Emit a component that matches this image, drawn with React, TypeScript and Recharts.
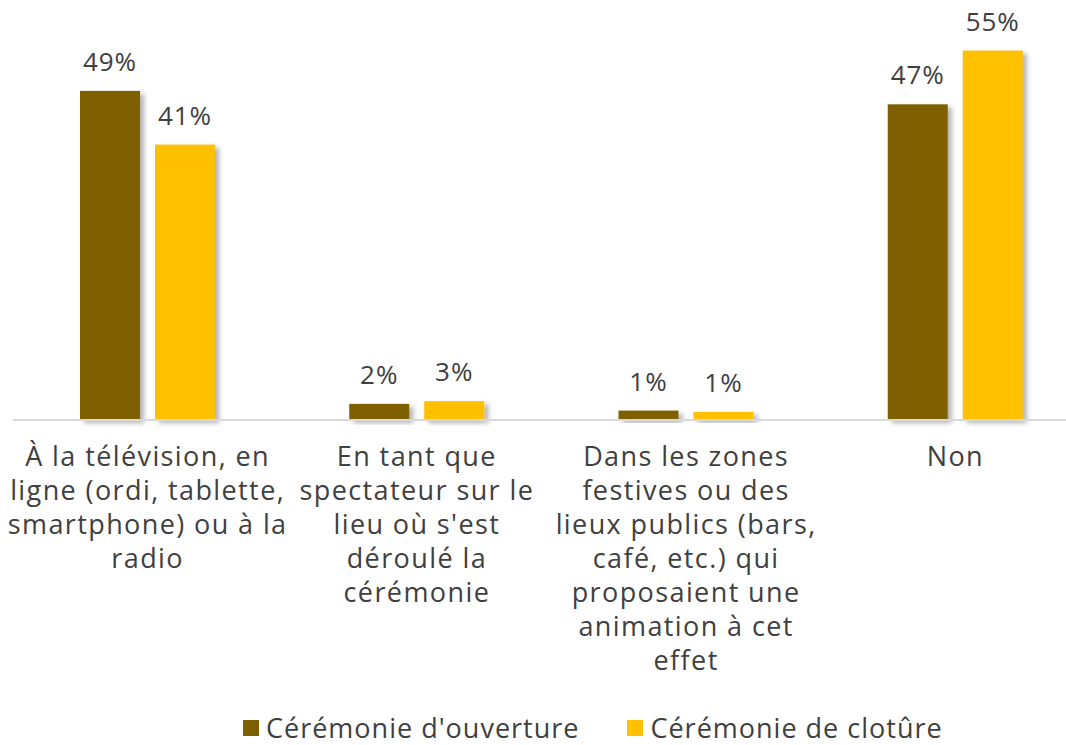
import React from "react";
import { BarChart, Bar, XAxis, YAxis, Legend, LabelList } from "recharts";

// ---- data ----
const categories = [
  "À la télévision, en\nligne (ordi, tablette,\nsmartphone) ou à la\nradio",
  "En tant que\nspectateur sur le\nlieu où s'est\ndéroulé la\ncérémonie",
  "Dans les zones\nfestives ou des\nlieux publics (bars,\ncafé, etc.) qui\nproposaient une\nanimation à cet\neffet",
  "Non",
];
const ouverture = [49, 2.4, 1.4, 47];
const cloture = [41, 2.8, 1.2, 55];

const seriesNames = ["Cérémonie d'ouverture", "Cérémonie de clotûre"];
const COLORS = ["#7F6000", "#FFC000"];
const TEXT = "#404040";
const FONT = "'Open Sans', Lato, sans-serif";

const data = categories.map((c, i) => ({
  name: c,
  ouverture: ouverture[i],
  cloture: cloture[i],
}));

function CategoryTick(props: any) {
  const { x, y, payload } = props;
  const lines = String(payload.value).split("\n");
  return (
    <text
      x={x}
      y={y + 38}
      textAnchor="middle"
      fill={TEXT}
      fontSize={27}
      letterSpacing={1.4}
      fontFamily={FONT}
    >
      {lines.map((l, i) => (
        <tspan key={i} x={x} dy={i === 0 ? 0 : 34}>
          {l}
        </tspan>
      ))}
    </text>
  );
}

function ShadowBar(props: any) {
  const { x, y, width, height, fill } = props;
  if (!height || height <= 0) return null;
  return <rect x={x} y={y} width={width} height={height} fill={fill} filter="url(#barShadow)" />;
}

function LegendContent() {
  return (
    <div
      style={{
        display: "flex",
        paddingLeft: 243,
        fontFamily: FONT,
        fontSize: 27,
        letterSpacing: 1,
        color: TEXT,
        lineHeight: "27px",
      }}
    >
      {seriesNames.map((n, i) => (
        <div key={n} style={{ display: "flex", alignItems: "center", marginRight: 48 }}>
          <span style={{ display: "inline-block", width: 16, height: 16, background: COLORS[i], marginRight: 7 }} />
          <span>{n}</span>
        </div>
      ))}
    </div>
  );
}

const labelStyle = { fill: TEXT, fontSize: 26, fontFamily: FONT, letterSpacing: 1 };

export default function App() {
  return (
    <div style={{ position: "absolute", left: 0, top: 0, width: 1066, height: 745, overflow: "hidden", background: "#fff" }}>
      <svg width={0} height={0} style={{ position: "absolute" }}>
        <defs>
          <filter id="barShadow" x="-20%" y="-20%" width="150%" height="150%">
            <feDropShadow dx={4} dy={3} stdDeviation={2.5} floodColor="#000" floodOpacity={0.3} />
          </filter>
        </defs>
      </svg>
      <BarChart
        width={1090}
        height={745}
        data={data}
        margin={{ top: 17, right: 0, left: 13, bottom: 0 }}
        barSize={60}
        barGap={15}
      >
        <XAxis
          dataKey="name"
          interval={0}
          height={298}
          tickLine={false}
          axisLine={{ stroke: "#D9D9D9", strokeWidth: 2 }}
          tick={<CategoryTick />}
        />
        <YAxis hide domain={[0, 60]} />
        <Legend
          verticalAlign="bottom"
          content={<LegendContent />}
          wrapperStyle={{ left: 0, top: 714, width: 1066, height: 27 }}
        />
        <Bar dataKey="ouverture" name={seriesNames[0]} fill={COLORS[0]} shape={<ShadowBar />} isAnimationActive={false}>
          <LabelList
            dataKey="ouverture"
            position="top"
            offset={20}
            formatter={(v: any) => `${Math.round(Number(v))}%`}
            style={labelStyle}
          />
        </Bar>
        <Bar dataKey="cloture" name={seriesNames[1]} fill={COLORS[1]} shape={<ShadowBar />} isAnimationActive={false}>
          <LabelList
            dataKey="cloture"
            position="top"
            offset={20}
            formatter={(v: any) => `${Math.round(Number(v))}%`}
            style={labelStyle}
          />
        </Bar>
      </BarChart>
    </div>
  );
}
